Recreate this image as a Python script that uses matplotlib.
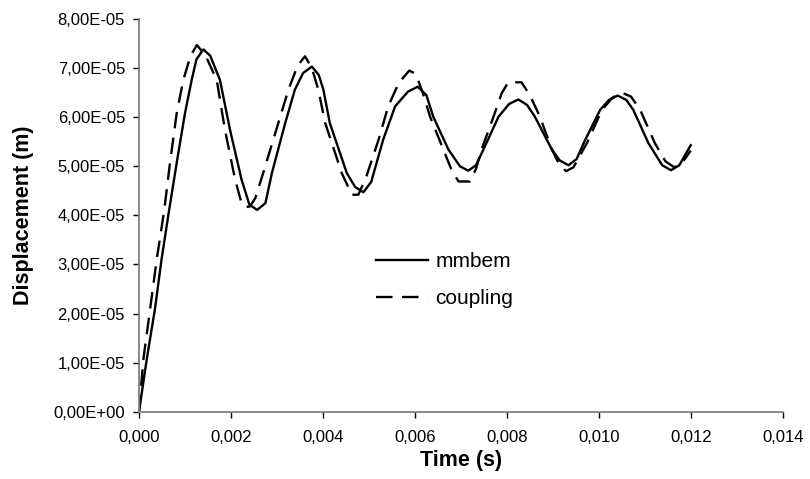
import matplotlib
matplotlib.use("Agg")
import matplotlib.pyplot as plt
from matplotlib.ticker import FuncFormatter, MultipleLocator

plt.rcParams['font.family'] = ['Liberation Sans', 'DejaVu Sans']

# values (time in ms here, displacement in 1e-5 m)
t_mmbem = [0.0, 0.167, 0.345, 0.49, 0.637, 0.82, 1.00, 1.146, 1.25, 1.40, 1.55,
           1.76, 1.98, 2.23, 2.40, 2.57, 2.75, 2.89, 3.18, 3.39, 3.57, 3.76, 3.91,
           4.01, 4.15, 4.52, 4.70, 4.88, 5.05, 5.31, 5.57, 5.85, 6.06, 6.25, 6.40,
           6.73, 6.98, 7.16, 7.33, 7.49, 7.82, 8.05, 8.25, 8.44, 8.61, 8.98, 9.15,
           9.34, 9.52, 9.67, 10.03, 10.22, 10.41, 10.60, 10.75, 11.08, 11.38, 11.57,
           11.75, 12.0]
y_mmbem = [0.0, 1.06, 2.08, 3.10, 4.00, 5.07, 6.08, 6.76, 7.18, 7.38, 7.25,
           6.76, 5.74, 4.73, 4.22, 4.11, 4.25, 4.86, 5.88, 6.56, 6.90, 7.03, 6.86,
           6.56, 5.88, 4.86, 4.58, 4.47, 4.68, 5.54, 6.22, 6.52, 6.62, 6.45, 6.01,
           5.34, 5.00, 4.91, 5.02, 5.34, 6.01, 6.27, 6.36, 6.25, 6.01, 5.34, 5.12,
           5.02, 5.15, 5.47, 6.15, 6.35, 6.44, 6.35, 6.15, 5.47, 5.02, 4.92,
           5.02, 5.43]

t_coupling = [0.0, 0.094, 0.24, 0.385, 0.55, 0.674, 0.82, 0.964, 1.12, 1.26, 1.45,
              1.69, 1.87, 2.09, 2.23, 2.32, 2.41, 2.53, 2.70, 3.03, 3.25, 3.45, 3.61,
              3.76, 3.90, 4.05, 4.41, 4.63, 4.77, 4.93, 5.21, 5.42, 5.65, 5.88, 6.02,
              6.17, 6.33, 6.62, 6.80, 6.95, 7.20, 7.33, 7.45, 7.71, 7.89, 8.03, 8.32,
              8.50, 8.72, 8.98, 9.15, 9.29, 9.45, 9.74, 10.07, 10.30, 10.50, 10.70,
              10.90, 11.22, 11.45, 11.64, 11.80, 12.0]
y_coupling = [0.0, 1.06, 2.08, 3.10, 4.11, 5.07, 6.08, 6.76, 7.25, 7.47, 7.25,
              6.76, 5.74, 4.73, 4.25, 4.17, 4.18, 4.35, 4.86, 5.88, 6.56, 7.05, 7.24,
              7.00, 6.56, 5.88, 4.86, 4.42, 4.42, 4.75, 5.54, 6.22, 6.70, 6.95, 6.88,
              6.50, 6.01, 5.34, 4.92, 4.69, 4.69, 4.95, 5.34, 6.01, 6.49, 6.71, 6.71,
              6.45, 6.01, 5.34, 5.02, 4.90, 4.98, 5.47, 6.15, 6.40, 6.50, 6.42,
              6.15, 5.47, 5.10, 4.98, 5.05, 5.32]

t_mmbem = [v * 1e-3 for v in t_mmbem]
y_mmbem = [v * 1e-5 for v in y_mmbem]
t_coupling = [v * 1e-3 for v in t_coupling]
y_coupling = [v * 1e-5 for v in y_coupling]

fig = plt.figure(figsize=(8.1, 4.79), dpi=100)
ax = fig.add_axes([139/810, 1 - 411.7/479, (782.7 - 139)/810, (411.7 - 19)/479])

ax.plot(t_mmbem, y_mmbem, color='black', lw=1.7, label='mmbem')
ax.plot(t_coupling, y_coupling, color='black', lw=1.7, dashes=(7, 4), label='coupling')

ax.set_xlim(0, 0.014)
ax.set_ylim(0, 8e-5)
ax.xaxis.set_major_locator(MultipleLocator(0.002))
ax.yaxis.set_major_locator(MultipleLocator(1e-5))
ax.xaxis.set_major_formatter(FuncFormatter(lambda v, p: f"{v:.3f}".replace('.', ',')))
ax.yaxis.set_major_formatter(FuncFormatter(lambda v, p: f"{v:.2E}".replace('.', ',')))

for s in ['top', 'right']:
    ax.spines[s].set_visible(False)
for s in ['left', 'bottom']:
    ax.spines[s].set_color('#808080')
    ax.spines[s].set_linewidth(1.3)
ax.tick_params(axis='both', direction='out', length=4, width=1, color='black',
               labelsize=12)
ax.tick_params(axis='y', pad=6)
ax.tick_params(axis='x', pad=9)

ax.set_xlabel('Time (s)', fontsize=15.5, fontweight='bold')
ax.set_ylabel('Displacement (m)', fontsize=15.5, fontweight='bold')
ax.xaxis.set_label_coords(0.5, -0.098)
ax.yaxis.set_label_coords(-0.163, 0.5)

ax.legend(frameon=False, loc='center left', bbox_to_anchor=(376/810, 1 - 280/479),
          bbox_transform=fig.transFigure, borderpad=0, borderaxespad=0,
          fontsize=15, handlelength=2.5, handletextpad=0.35, labelspacing=0.85)

fig.savefig('out.png', dpi=100)
